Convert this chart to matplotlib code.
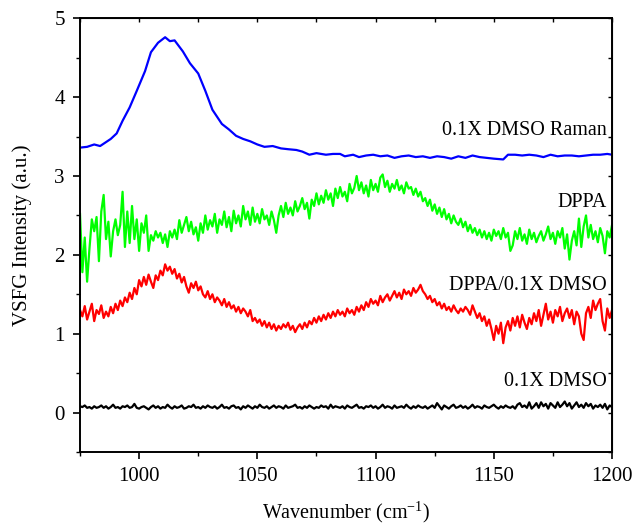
import numpy as np
import matplotlib
matplotlib.use("Agg")
import matplotlib.pyplot as plt
from matplotlib.ticker import MultipleLocator

plt.rcParams['font.family'] = ['Liberation Serif', 'DejaVu Serif']
plt.rcParams['mathtext.fontset'] = 'custom'
plt.rcParams['mathtext.rm'] = 'Liberation Serif'
plt.rcParams['mathtext.it'] = 'Liberation Serif:italic'

# ---------------- data ----------------
wn_start, wn_end = 975, 1200

dppa = [
    2.52, 1.78, 2.22, 1.66, 2.08, 2.45, 2.30, 2.48, 1.92, 2.55,
    2.76, 2.20, 2.42, 1.98, 2.30, 2.45, 2.25, 2.38, 2.80, 2.10,
    2.55, 2.15, 2.62, 2.20, 2.45, 2.05, 2.40, 2.28, 2.50, 2.05,
    2.25, 2.18, 2.30, 2.22, 2.28, 2.15, 2.26, 2.10, 2.30, 2.22,
    2.32, 2.20, 2.44, 2.28, 2.38, 2.48, 2.30, 2.42, 2.26, 2.35,
    2.18, 2.40, 2.28, 2.50, 2.32, 2.44, 2.36, 2.52, 2.28, 2.45,
    2.38, 2.55, 2.35, 2.48, 2.30, 2.56, 2.40, 2.50, 2.36, 2.62,
    2.45, 2.55, 2.38, 2.60, 2.42, 2.52, 2.40, 2.58, 2.45, 2.50,
    2.38, 2.55, 2.44, 2.28, 2.50, 2.62, 2.48, 2.66, 2.52, 2.60,
    2.50, 2.68, 2.55, 2.62, 2.72, 2.58, 2.66, 2.46, 2.70, 2.62,
    2.78, 2.64, 2.75, 2.66, 2.82, 2.70, 2.78, 2.62, 2.84, 2.72,
    2.86, 2.74, 2.80, 2.68, 2.90, 2.78, 2.85, 3.00, 2.82, 2.92,
    2.78, 2.88, 2.74, 2.95, 2.82, 2.90, 2.80, 2.98, 3.02, 2.86,
    2.94, 2.80, 2.90, 2.84, 2.95, 2.82, 2.88, 2.78, 2.92, 2.84,
    2.86, 2.76, 2.84, 2.74, 2.80, 2.68, 2.72, 2.62, 2.70, 2.56,
    2.64, 2.52, 2.60, 2.48, 2.58, 2.45, 2.52, 2.40, 2.50, 2.42,
    2.38, 2.46, 2.35, 2.42, 2.30, 2.38, 2.28, 2.34, 2.25, 2.32,
    2.22, 2.30, 2.20, 2.28, 2.18, 2.32, 2.24, 2.30, 2.20, 2.34,
    2.22, 2.28, 2.05, 2.12, 2.30, 2.20, 2.34, 2.18, 2.26, 2.14,
    2.32, 2.20, 2.28, 2.16, 2.24, 2.30, 2.18, 2.26, 2.36, 2.20,
    2.28, 2.14, 2.30, 2.22, 2.34, 2.08, 2.26, 1.94, 2.18, 2.30,
    2.12, 2.46, 2.10, 2.36, 2.50, 2.22, 2.38, 2.20, 2.30, 2.16,
    2.34, 2.24, 2.02, 2.30, 2.22, 2.38,
]

dppa_dmso = [
    1.30, 1.22, 1.35, 1.18, 1.28, 1.38, 1.16, 1.30, 1.25, 1.36,
    1.20, 1.28, 1.22, 1.34, 1.26, 1.38, 1.30, 1.42, 1.35, 1.46,
    1.40, 1.52, 1.44, 1.58, 1.50, 1.68, 1.60, 1.72, 1.62, 1.75,
    1.66, 1.58, 1.74, 1.68, 1.80, 1.74, 1.88, 1.80, 1.85, 1.76,
    1.82, 1.70, 1.76, 1.65, 1.72, 1.60, 1.52, 1.64, 1.58, 1.66,
    1.55, 1.60, 1.50, 1.46, 1.54, 1.44, 1.50, 1.40, 1.46, 1.42,
    1.36, 1.44, 1.34, 1.40, 1.32, 1.36, 1.28, 1.34, 1.26, 1.32,
    1.28, 1.22, 1.30, 1.16, 1.20, 1.14, 1.18, 1.10, 1.16, 1.08,
    1.14, 1.06, 1.12, 1.04, 1.10, 1.06, 1.12, 1.08, 1.14, 1.05,
    1.10, 1.02, 1.08, 1.12, 1.06, 1.14, 1.08, 1.16, 1.12, 1.20,
    1.14, 1.22, 1.16, 1.24, 1.18, 1.26, 1.20, 1.28, 1.22, 1.30,
    1.24, 1.28, 1.22, 1.32, 1.26, 1.30, 1.24, 1.34, 1.28, 1.36,
    1.30, 1.40, 1.34, 1.44, 1.38, 1.42, 1.36, 1.48, 1.40, 1.46,
    1.50, 1.42, 1.48, 1.54, 1.46, 1.52, 1.44, 1.56, 1.50, 1.54,
    1.48, 1.58, 1.52, 1.56, 1.62, 1.54, 1.50, 1.44, 1.48, 1.40,
    1.44, 1.36, 1.40, 1.32, 1.38, 1.30, 1.34, 1.28, 1.36, 1.30,
    1.26, 1.32, 1.28, 1.34, 1.30, 1.24, 1.36, 1.28, 1.20, 1.26,
    1.16, 1.22, 1.10, 1.18, 1.06, 0.92, 1.10, 1.00, 1.14, 0.88,
    1.08, 1.16, 1.04, 1.20, 1.10, 1.22, 1.08, 1.24, 1.14, 1.06,
    1.20, 1.12, 1.26, 1.16, 1.30, 1.10, 1.24, 1.38, 1.18, 1.28,
    1.14, 1.30, 1.22, 1.34, 1.16, 1.26, 1.32, 1.20, 1.30, 1.12,
    1.28, 1.22, 1.00, 0.92, 1.26, 1.34, 1.20, 1.42, 1.30, 1.38,
    1.44, 1.16, 1.04, 1.32, 1.20, 1.30,
]

dmso = [
    0.08, 0.07, 0.09, 0.06, 0.07, 0.05, 0.08, 0.06, 0.07, 0.09,
    0.06, 0.08, 0.05, 0.07, 0.10, 0.06, 0.07, 0.05, 0.08, 0.07,
    0.09, 0.06, 0.07, 0.11, 0.06, 0.05, 0.07, 0.08, 0.06, 0.04,
    0.07, 0.09, 0.06, 0.08, 0.05, 0.07, 0.06, 0.10, 0.07, 0.05,
    0.08, 0.06, 0.07, 0.09, 0.05, 0.06, 0.08, 0.07, 0.10, 0.06,
    0.07, 0.05, 0.08, 0.06, 0.09, 0.07, 0.06, 0.08, 0.05, 0.07,
    0.10, 0.06, 0.07, 0.05, 0.08, 0.09, 0.06, 0.07, 0.04, 0.08,
    0.06, 0.09, 0.07, 0.05, 0.08, 0.06, 0.10, 0.07, 0.06, 0.08,
    0.05, 0.07, 0.09, 0.06, 0.08, 0.07, 0.05, 0.09, 0.06, 0.07,
    0.08, 0.10, 0.06, 0.07, 0.05, 0.08, 0.06, 0.09, 0.07, 0.05,
    0.07, 0.06, 0.09, 0.07, 0.08, 0.05, 0.10, 0.06, 0.08, 0.07,
    0.06, 0.08, 0.05, 0.09, 0.07, 0.06, 0.08, 0.10, 0.06, 0.07,
    0.05, 0.08, 0.07, 0.09, 0.06, 0.08, 0.05, 0.07, 0.10, 0.06,
    0.08, 0.07, 0.05, 0.09, 0.06, 0.07, 0.08, 0.06, 0.10, 0.07,
    0.05, 0.08, 0.06, 0.09, 0.07, 0.06, 0.08, 0.05, 0.07, 0.09,
    0.06, 0.12, 0.08, 0.04, 0.09, 0.07, 0.05, 0.08, 0.10, 0.06,
    0.07, 0.09, 0.06, 0.08, 0.05, 0.07, 0.10, 0.06, 0.08, 0.07,
    0.05, 0.09, 0.07, 0.06, 0.08, 0.10, 0.07, 0.05, 0.08, 0.06,
    0.09, 0.07, 0.06, 0.08, 0.05, 0.10, 0.12, 0.07, 0.09, 0.06,
    0.13, 0.05, 0.08, 0.12, 0.06, 0.13, 0.08, 0.11, 0.05, 0.12,
    0.09, 0.06, 0.13, 0.07, 0.10, 0.14, 0.08, 0.12, 0.05, 0.09,
    0.13, 0.07, 0.10, 0.06, 0.12, 0.08, 0.11, 0.05, 0.09, 0.07,
    0.10, 0.06, 0.11, 0.04, 0.09, 0.07,
]

raman_wn = [975, 978, 981, 983.5, 986, 988, 990.5, 993, 996, 999,
            1002.5, 1005, 1008, 1011, 1013, 1015, 1018.5, 1021.5, 1025, 1028,
            1031, 1035, 1038, 1041, 1044, 1047, 1050, 1053, 1056.5, 1060,
            1063, 1066.5, 1069, 1072, 1075, 1079, 1082, 1085, 1087, 1090.5,
            1093, 1096, 1099, 1102, 1105, 1108, 1111, 1114, 1117, 1120,
            1123, 1126, 1129, 1132, 1135, 1138, 1141, 1144, 1147, 1150,
            1154, 1156, 1159, 1162, 1165, 1168, 1171, 1174, 1177, 1180,
            1183, 1186, 1189, 1192, 1195, 1198, 1200]
raman = [3.36, 3.37, 3.40, 3.38, 3.43, 3.47, 3.54, 3.70, 3.87, 4.08,
         4.33, 4.57, 4.69, 4.76, 4.71, 4.72, 4.58, 4.43, 4.30, 4.08,
         3.84, 3.66, 3.59, 3.51, 3.47, 3.44, 3.40, 3.37, 3.38, 3.35,
         3.34, 3.33, 3.31, 3.27, 3.29, 3.27, 3.28, 3.28, 3.25, 3.27,
         3.24, 3.26, 3.27, 3.25, 3.26, 3.23, 3.25, 3.26, 3.24, 3.25,
         3.23, 3.25, 3.24, 3.22, 3.25, 3.23, 3.26, 3.24, 3.23, 3.22,
         3.21, 3.27, 3.27, 3.26, 3.27, 3.26, 3.24, 3.27, 3.25, 3.26,
         3.26, 3.25, 3.26, 3.27, 3.27, 3.28, 3.27]

labels = ["0.1X DMSO Raman", "DPPA", "DPPA/0.1X DMSO", "0.1X DMSO"]
label_y = [3.58, 2.66, 1.61, 0.40]

x_ticks = [1000, 1050, 1100, 1150, 1200]
y_ticks = [0, 1, 2, 3, 4, 5]

# ---------------- plot ----------------
wn = np.arange(wn_start, wn_end + 1)

fig = plt.figure(figsize=(6.36, 5.26), dpi=100)
ax = fig.add_axes([0.1258, 0.1407, 0.8365, 0.8245])

lw = 1.6
ax.plot(raman_wn, raman, color='#0000ff', lw=lw)
ax.plot(wn, dppa, color='#00ff00', lw=lw)
ax.plot(wn, dppa_dmso, color='#ff0000', lw=lw)
ax.plot(wn, dmso, color='black', lw=lw)

for t, yv in zip(labels, label_y):
    ax.text(1197.8, yv, t, ha='right', va='center', fontsize=14.5)

ax.set_xlim(975, 1200)
ax.set_ylim(-0.5, 5)
ax.set_xticks(x_ticks)
ax.set_yticks(y_ticks)
ax.xaxis.set_minor_locator(MultipleLocator(25))
ax.yaxis.set_minor_locator(MultipleLocator(0.5))
ax.tick_params(which='major', direction='out', length=5, width=1.2,
               labelsize=15, top=False, right=False)
ax.tick_params(which='minor', direction='out', length=3, width=1.0,
               top=False, right=False)
ax.tick_params(axis='x', pad=6)
ax.tick_params(axis='y', pad=6)

for s in ax.spines.values():
    s.set_linewidth(1.4)

sx = ax.secondary_xaxis('top')
sx.set_xticks(x_ticks)
sx.xaxis.set_minor_locator(MultipleLocator(25))
sx.tick_params(which='both', direction='in', length=3, width=1.0, labeltop=False)
sy = ax.secondary_yaxis('right')
sy.set_yticks(y_ticks)
sy.yaxis.set_minor_locator(MultipleLocator(0.5))
sy.tick_params(which='both', direction='in', length=3, width=1.0, labelright=False)

ax.set_xlabel('Wavenumber (cm$^{-1}$)', fontsize=14.5, labelpad=10)
ax.set_ylabel('VSFG Intensity (a.u.)', fontsize=15, labelpad=16)

fig.savefig('out.png', dpi=100)
